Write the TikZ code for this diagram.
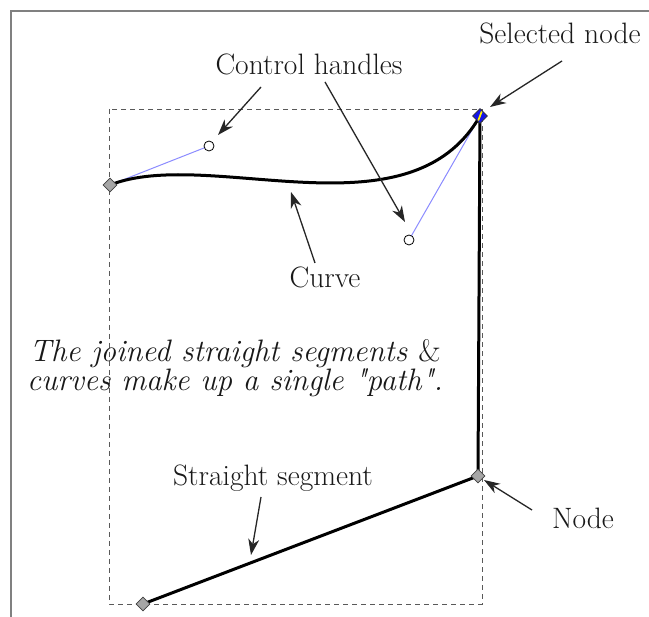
\documentclass[tikz,border=0pt]{standalone}
\usetikzlibrary{arrows.meta,shapes.geometric,calc}
\newcommand{\straightquote}{\XeTeXglyph\XeTeXcharglyph"22\relax}
\begin{document}
\begin{tikzpicture}[x=1pt,y=-1pt,
  lbl/.style={font=\fontsize{29.5}{34}\selectfont, inner sep=0pt, anchor=base, text=black!90},
  itl/.style={font=\fontsize{31}{34}\selectfont\itshape, inner sep=0pt, anchor=base, text=black!90},
  conn/.style={draw=black!85, line width=1.3pt, -{Stealth[length=16pt,width=11pt,inset=5pt]}},
  pathline/.style={draw=black, line width=3pt, line join=round},
  handleline/.style={draw={rgb,255:red,140;green,140;blue,255}, line width=1pt},
  pnode/.style={diamond, draw=black!75, fill=black!35, line width=0.8pt, minimum size=14pt, inner sep=0pt},
  selnode/.style={diamond, draw=black!80, fill={rgb,255:red,20;green,20;blue,230}, line width=0.8pt, minimum size=15pt, inner sep=0pt},
  hnode/.style={circle, draw=black, fill=white, line width=0.8pt, minimum size=10pt, inner sep=0pt},
  bbox/.style={draw=black!65, line width=0.8pt, dash pattern=on 5pt off 4pt}]
\useasboundingbox (0,0) rectangle (649,617);
\fill[white] (0,0) rectangle (649,617);
% frame
\draw[black!50, line width=2pt] (11,617) -- (11,11) -- (649,11);
% dashed bounding box
\draw[bbox] (109,109) rectangle (482,604);
% coordinates of the path
\coordinate (p1) at (110,185);
\coordinate (c1) at (209,146);
\coordinate (c2) at (409,240);
\coordinate (p2) at (480,116);
\coordinate (p3) at (478,476);
\coordinate (p4) at (143,604);
% handle lines
\draw[handleline] (p1) -- (c1);
\draw[handleline] (p2) -- (c2);
% path
\draw[pathline] (p1) .. controls (c1) and (c2) .. (p2) -- (p3) -- (p4);
% markers
\node[pnode] (n1) at (p1) {};
\node[pnode] (n3) at (p3) {};
\node[pnode] (n4) at (p4) {};
\node[selnode] (sel) at (p2) {};
\fill[yellow] ($(p2)+(1,-5)$) -- ($(p2)+(2.5,-4)$) -- ($(p2)+(-1,5)$) -- ($(p2)+(-2.5,4)$) -- cycle;
\node[hnode] (h1) at (c1) {};
\node[hnode] (h2) at (c2) {};
% labels
\node[lbl] (lctrl) at (309,75) {Control handles};
\node[lbl] (lsel) at (560,44) {Selected node};
\node[lbl] (lcurve) at (325,288) {Curve};
\node[lbl] (lstraight) at (273,486) {Straight segment};
\node[lbl] (lnode) at (583,529) {Node};
\node[itl] (t1) at (235,362) {The joined straight segments \textup{\&}};
\node[itl] (t2) at (235,391) {curves make up a single \straightquote path\straightquote.};
% arrows
\coordinate (a1s) at (261,87);  \coordinate (a1e) at (218,135);
\coordinate (a2s) at (325,82);  \coordinate (a2e) at (405,222);
\coordinate (a3s) at (562,61);  \coordinate (a3e) at (490,107);
\coordinate (a4s) at (315,263); \coordinate (a4e) at (291,192);
\coordinate (a5s) at (261,497); \coordinate (a5e) at (251,555);
\coordinate (a6s) at (532,510); \coordinate (a6e) at (484,480);
\draw[conn] (a1s) -- (a1e);
\draw[conn] (a2s) -- (a2e);
\draw[conn] (a3s) -- (a3e);
\draw[conn] (a4s) -- (a4e);
\draw[conn] (a5s) -- (a5e);
\draw[conn] (a6s) -- (a6e);
\end{tikzpicture}
\end{document}
